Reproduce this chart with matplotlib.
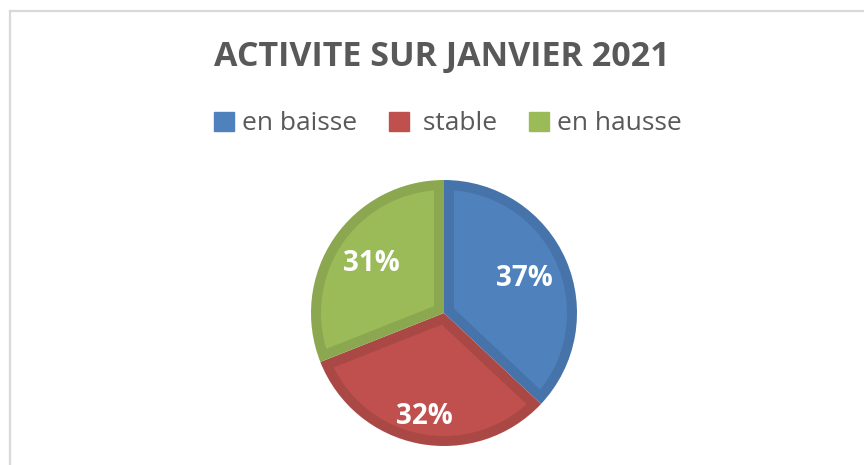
import matplotlib
matplotlib.use('Agg')
import matplotlib.pyplot as plt
import matplotlib.patches as mpatches
from matplotlib.lines import Line2D
import numpy as np

categories = ['en baisse', ' stable', 'en hausse']
values = [37, 32, 31]
pct_labels = ['37%', '32%', '31%']
title = 'ACTIVITE SUR JANVIER 2021'

fill_colors = ['#4F81BD', '#C0504D', '#9BBB59']
edge_colors = ['#4673AA', '#AA4845', '#8BA74F']
label_dist = [0.66, 0.79, 0.66]
text_grey = '#595959'

plt.rcParams['font.family'] = ['Open Sans', 'DejaVu Sans']

W, H = 864, 465
fig = plt.figure(figsize=(W / 100, H / 100), dpi=100)
fig.patch.set_facecolor('white')

# chart frame (only left and top edges visible in the crop)
fig.add_artist(Line2D([9.5 / W, 9.5 / W], [0, 1 - 11 / H], color='#D9D9D9', lw=1.6))
fig.add_artist(Line2D([9.5 / W, 1], [1 - 11 / H, 1 - 11 / H], color='#D9D9D9', lw=1.6))

fig.text(442 / W, 1 - 57 / H, title, ha='center', va='center',
         fontsize=24.5, fontweight='bold', color=text_grey)

cx, cy, r = 444, 313, 133
ax = fig.add_axes([(cx - r) / W, (H - cy - r) / H, 2 * r / W, 2 * r / H])
# darker base wedges = the bevel rim
wedges, _ = ax.pie(values, colors=edge_colors, startangle=90, counterclock=False,
                   radius=1, wedgeprops=dict(linewidth=0))
ax.set_xlim(-1, 1)
ax.set_ylim(-1, 1)
ax.set_aspect('equal')
ax.axis('off')


def inset_wedge(a1, a2, rad, d):
    """Polygon of a wedge shrunk by d from its radial edges and its arc."""
    a1, a2 = np.deg2rad(a1), np.deg2rad(a2)
    rho = rad - d
    half = (a2 - a1) / 2
    mid = a1 + half
    apex = d / np.sin(half) * np.array([np.cos(mid), np.sin(mid)])
    da = np.arcsin(d / rho)
    arc = np.linspace(a1 + da, a2 - da, 120)
    pts = [apex] + [rho * np.array([np.cos(t), np.sin(t)]) for t in arc]
    return np.array(pts)


inset = 10 / r
for w, fc in zip(wedges, fill_colors):
    poly = inset_wedge(w.theta1, w.theta2, w.r, inset)
    ax.add_patch(mpatches.Polygon(poly, closed=True, facecolor=fc, edgecolor='none'))

for w, lab, d in zip(wedges, pct_labels, label_dist):
    ang = np.deg2rad((w.theta1 + w.theta2) / 2)
    ax.text(d * np.cos(ang), d * np.sin(ang), lab, ha='center', va='center',
            fontsize=20, fontweight='bold', color='white')

handles = [mpatches.Patch(facecolor=c, edgecolor=c) for c in fill_colors]
fig.legend(handles, categories, loc='center', bbox_to_anchor=(448 / W, 1 - 124 / H),
           ncol=3, frameon=False, fontsize=19, labelcolor=text_grey,
           handlelength=0.75, handleheight=0.75, handletextpad=0.3, columnspacing=1.2)

fig.savefig('out.png', dpi=100)
